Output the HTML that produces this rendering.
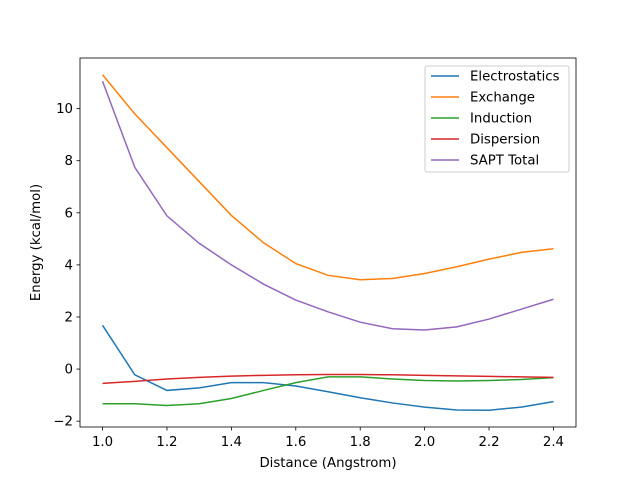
<!DOCTYPE html>
<html><head><meta charset="utf-8"><style>
body{margin:0;background:#fff}
svg{font-family:"DejaVu Sans","Liberation Sans",sans-serif}
</style></head><body>
<svg id="c" width="640" height="480" xmlns="http://www.w3.org/2000/svg"></svg>
<script>
const xs=[1.0,1.1,1.2,1.3,1.4,1.5,1.6,1.7,1.8,1.9,2.0,2.1,2.2,2.3,2.4];
const electrostatics=[1.68,-0.22,-0.82,-0.72,-0.52,-0.52,-0.65,-0.87,-1.1,-1.3,-1.46,-1.57,-1.58,-1.46,-1.25];
const exchange=[11.3,9.8,8.5,7.2,5.9,4.85,4.05,3.6,3.43,3.48,3.67,3.93,4.22,4.48,4.62];
const induction=[-1.33,-1.33,-1.4,-1.33,-1.13,-0.82,-0.52,-0.3,-0.3,-0.38,-0.44,-0.46,-0.44,-0.4,-0.33];
const dispersion=[-0.55,-0.47,-0.38,-0.32,-0.27,-0.24,-0.22,-0.21,-0.21,-0.22,-0.24,-0.26,-0.28,-0.3,-0.32];
const saptTotal=[11.05,7.75,5.88,4.83,4.0,3.26,2.65,2.2,1.8,1.55,1.5,1.62,1.92,2.3,2.68];
const seriesNames=["Electrostatics","Exchange","Induction","Dispersion","SAPT Total"];
const xTicks=[1.0,1.2,1.4,1.6,1.8,2.0,2.2,2.4];
const yTicks=[-2,0,2,4,6,8,10];
const series=[electrostatics,exchange,induction,dispersion,saptTotal];
const colors=["#1f77b4","#ff7f0e","#2ca02c","#d62728","#9467bd"];
const L=80,R=576,T=58,B=427;
const all=series.flat();let mn=Math.min(...all),mx=Math.max(...all),pad=(mx-mn)*0.05;
const y0=mn-pad,y1=mx+pad;
const xmn=Math.min(...xs),xmx=Math.max(...xs),xp=(xmx-xmn)*0.05;
const X=v=>L+(v-(xmn-xp))/((xmx+xp)-(xmn-xp))*(R-L);
const Y=v=>B-(v-y0)/(y1-y0)*(B-T);
const svg=document.getElementById('c');const NS="http://www.w3.org/2000/svg";
function mk(t,a,p){const e=document.createElementNS(NS,t);for(const k in a)e.setAttribute(k,a[k]);(p||svg).appendChild(e);return e;}
series.forEach((s,i)=>{
 const p=mk('polyline',{points:s.map((v,j)=>X(xs[j])+','+Y(v)).join(' '),fill:'none',stroke:colors[i],'stroke-width':1.5});
 
 
});
const fr=mk('rect',{x:L,y:T,width:R-L,height:B-T,fill:'none',stroke:'#000','stroke-width':0.8});


xTicks.forEach(v=>{const x=X(v);mk('line',{x1:x,x2:x,y1:B,y2:B+3.5,stroke:'#000','stroke-width':0.8});
 const t=mk('text',{x:x,y:B+19,'text-anchor':'middle','font-size':13.3});t.textContent=v.toFixed(1);
 
 });
yTicks.forEach(v=>{const y=Y(v);mk('line',{x1:L,x2:L-3.5,y1:y,y2:y,stroke:'#000','stroke-width':0.8});
 const t=mk('text',{x:L-7,y:y+4.5,'text-anchor':'end','font-size':13.3});t.textContent=v<0?'\u2212'+(-v):v;
 
 });
const xt=mk('text',{x:(L+R)/2,y:467,'text-anchor':'middle','font-size':13.3});xt.textContent='Distance (Angstrom)';


const yt=mk('text',{x:0,y:0,'text-anchor':'middle','font-size':13.3,transform:'translate(40,'+((T+B)/2)+') rotate(-90)'});yt.textContent='Energy (kcal/mol)';


const lg=mk('g',{});


mk('rect',{x:425,y:66,width:144,height:106,rx:2,fill:'#fff','fill-opacity':0.8,stroke:'#ccc','stroke-width':1},lg);
seriesNames.forEach((n,i)=>{const y=76+i*21;
 mk('line',{x1:431,x2:459,y1:y,y2:y,stroke:colors[i],'stroke-width':1.5},lg);
 const t=mk('text',{x:470,y:y+4.5,'font-size':13.3},lg);t.textContent=n;
 
 });
</script>
</body></html>
